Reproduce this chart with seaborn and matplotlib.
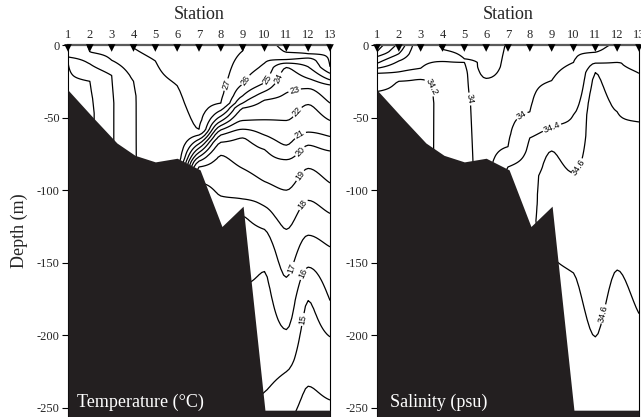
import numpy as np
import matplotlib
matplotlib.use("Agg")
import matplotlib.pyplot as plt
import seaborn as sns
from matplotlib.transforms import ScaledTranslation

# ---------------- data ----------------
stations = [1, 2, 3, 4, 5, 6, 7, 8, 9, 10, 11, 12, 13]
depth_ticks = [0, -50, -100, -150, -200, -250]

# bottom topography (station position, depth m)
bathy_station = [1.0, 2.15, 3.24, 4.07, 5.0, 6.0, 7.05, 8.05, 9.02, 10.02, 13.0]
bathy_depth = [31, 50, 67.5, 76, 80.5, 78, 86, 125, 111, 251.5, 251.5]

temp_levels = list(range(14, 28))
sal_levels = [33.2, 33.4, 33.6, 33.8, 34.0, 34.4, 34.6]
sal_pocket_level = [34.2]

# temperature profiles (depth m, deg C) per station
t_z1 = [0, 8.3, 11.7, 31, 256];        t_v1 = [25.6, 25.0, 24.0, 23.8, 23.7]
t_z2 = [0, 4.8, 13, 25, 47, 256];      t_v2 = [26.06, 26.0, 25.0, 24.0, 23.9, 23.9]
t_z3 = [0, 10.5, 21, 40, 256];         t_v3 = [26.5, 26.0, 25.0, 24.9, 24.9]
t_z4 = [0, 2, 25, 35, 256];            t_v4 = [27.05, 27.0, 26.0, 25.9, 25.9]
t_z5 = [0, 11, 40, 80, 256];           t_v5 = [27.4, 27.0, 26.6, 26.5, 26.45]
t_z6 = [0, 28, 60, 78, 84, 88, 92, 96, 100, 104, 108, 114, 125, 145, 170, 210, 256]
t_v6 = [27.6, 27.0, 26.6, 26.4, 26, 25, 24, 23, 22, 21, 20, 19, 18, 17, 16, 15, 14.5]
t_z7 = [0, 58, 62, 65, 68, 71, 74, 77, 80, 84, 95, 110, 130, 160, 200, 256]
t_v7 = [27.8, 27, 26, 25, 24, 23, 22, 21, 20, 19, 18, 17, 16, 15, 14, 13.5]
t_z8 = [0, 40, 45, 49, 52.5, 55.5, 58.5, 62, 67, 76, 104, 128, 150, 200, 256]
t_v8 = [27.6, 27, 26, 25, 24, 23, 22, 21, 20, 19, 18, 17, 16, 15, 14.1]
t_z9 = [0, 4, 27, 35, 40, 43.5, 52, 58, 64, 85, 106, 118, 165, 245, 256]
t_v9 = [27.05, 27, 26, 25, 24, 23, 22, 21, 20, 19, 18, 17, 16, 15, 14.9]
t_z10 = [0, 12.5, 26, 32, 38, 51.5, 62, 72, 94, 111, 127, 156, 239, 256]
t_v10 = [26.7, 26, 25, 24, 23, 22, 21, 20, 19, 18, 17, 16, 15, 14.85]
t_z11 = [0, 5, 10, 12.5, 15.5, 33, 52, 69, 79, 100, 127, 160, 196, 225, 256]
t_v11 = [27.3, 27, 26, 25, 24, 23, 22, 21, 20, 19, 18, 17, 16, 15, 14.2]
t_z12 = [0, 6, 9, 15, 23, 30, 41, 60, 69, 85, 107, 131, 153, 176, 235, 256]
t_v12 = [27.5, 27, 26, 25, 24, 23, 22, 21, 20, 19, 18, 17, 16, 15, 14, 13.7]
t_z13 = [0, 15, 19.5, 24, 27.5, 40, 52, 63, 73, 95, 116, 139, 176, 201, 244.5, 256]
t_v13 = [27.3, 27, 26, 25, 24, 23, 22, 21, 20, 19, 18, 17, 16, 15, 14, 13.8]

# salinity profiles (depth m, psu) per station
s_z1 = [0, 4.6, 8, 12.6, 16, 19.5, 32, 40, 256]
s_v1 = [33.1, 33.2, 33.4, 33.6, 33.8, 34.0, 34.2, 34.25, 34.25]
s_z2 = [0, 6, 11, 18.5, 25, 35, 256];  s_v2 = [33.45, 33.6, 33.8, 34.0, 34.2, 34.25, 34.25]
s_z3 = [0, 16, 23.6, 30, 256];         s_v3 = [33.9, 34.0, 34.2, 34.25, 34.25]
s_z4 = [0, 3, 11.3, 20, 40, 256];      s_v4 = [33.78, 33.8, 34.0, 34.12, 34.15, 34.15]
s_z5 = [0, 9.5, 12, 20, 80, 256];      s_v5 = [33.7, 33.8, 34.0, 34.03, 34.06, 34.06]
s_z6 = [0, 15, 23, 40, 78, 256];       s_v6 = [33.65, 33.7, 33.8, 33.92, 33.93, 33.95]
s_z7 = [0, 30, 70, 84, 86, 256];       s_v7 = [33.82, 33.9, 34.0, 34.4, 34.42, 34.5]
s_z8 = [0, 46, 64, 90, 121, 256];      s_v8 = [33.9, 34.0, 34.4, 34.54, 34.58, 34.58]
s_z9 = [0, 24.5, 56.5, 73, 90, 111, 145, 200, 256]
s_v9 = [33.92, 34.0, 34.4, 34.6, 34.66, 34.65, 34.6, 34.55, 34.54]
s_z10 = [0, 12, 48, 88, 110, 157, 200, 256]
s_v10 = [33.95, 34.0, 34.4, 34.6, 34.68, 34.6, 34.56, 34.55]
s_z11 = [0, 5, 12.5, 19, 40, 100, 201, 256]
s_v11 = [33.9, 34.0, 34.4, 34.6, 34.68, 34.7, 34.6, 34.55]
s_z12 = [0, 12, 46, 100, 155, 200, 256]; s_v12 = [34.08, 34.4, 34.6, 34.7, 34.6, 34.55, 34.54]
s_z13 = [0, 19.5, 53, 100, 185, 256];  s_v13 = [34.3, 34.4, 34.6, 34.7, 34.6, 34.55]

# contour label anchors: (level, station, approx depth)
temp_label_at = [(27, 8.27, 26), (26, 9.18, 24.5), (25, 10.1, 25), (24, 10.6, 24),
                 (23, 11.4, 31), (22, 11.55, 46), (21, 11.6, 63), (20, 11.65, 72.5),
                 (19, 11.6, 90), (18, 11.7, 112), (17, 11.3, 145), (16, 11.7, 165),
                 (15, 11.8, 186)]
sal_label_at = [(34.0, 5.2, 30), (34.0, 7.6, 55), (34.4, 8.95, 58),
                (34.6, 10.2, 78), (34.6, 11.36, 172)]
sal_pocket_label_at = [(34.2, 3.45, 38)]

# ---------------- build fields ----------------
z_fine = np.arange(0, 256.5, 0.5)
x_fine = np.linspace(stations[0], stations[-1], 12 * 8 + 1)
t_profiles = [(t_z1, t_v1), (t_z2, t_v2), (t_z3, t_v3), (t_z4, t_v4), (t_z5, t_v5),
              (t_z6, t_v6), (t_z7, t_v7), (t_z8, t_v8), (t_z9, t_v9), (t_z10, t_v10),
              (t_z11, t_v11), (t_z12, t_v12), (t_z13, t_v13)]
s_profiles = [(s_z1, s_v1), (s_z2, s_v2), (s_z3, s_v3), (s_z4, s_v4), (s_z5, s_v5),
              (s_z6, s_v6), (s_z7, s_v7), (s_z8, s_v8), (s_z9, s_v9), (s_z10, s_v10),
              (s_z11, s_v11), (s_z12, s_v12), (s_z13, s_v13)]


def pchip_rows(x, Y, xn):
    """Shape-preserving (non-overshooting) cubic along the station axis."""
    x = np.asarray(x, float)
    h = np.diff(x)
    d = np.diff(Y, axis=1) / h
    m = np.zeros_like(Y)
    m[:, 0] = d[:, 0]
    m[:, -1] = d[:, -1]
    d0, d1 = d[:, :-1], d[:, 1:]
    same = (d0 * d1) > 0
    with np.errstate(divide='ignore', invalid='ignore'):
        hm = 2.0 / (1.0 / d0 + 1.0 / d1)
    m[:, 1:-1] = np.where(same, hm, 0.0)
    k = np.clip(np.searchsorted(x, xn, side='right') - 1, 0, len(x) - 2)
    t = (xn - x[k]) / h[k]
    h00 = 2 * t**3 - 3 * t**2 + 1
    h10 = t**3 - 2 * t**2 + t
    h01 = -2 * t**3 + 3 * t**2
    h11 = t**3 - t**2
    return (h00 * Y[:, k] + h10 * h[k] * m[:, k] + h01 * Y[:, k + 1] + h11 * h[k] * m[:, k + 1])


T0 = np.column_stack([np.interp(z_fine, z, v) for z, v in t_profiles])
S0 = np.column_stack([np.interp(z_fine, z, v) for z, v in s_profiles])
T = pchip_rows(stations, T0, x_fine)
S = pchip_rows(stations, S0, x_fine)
S_pocket = S.copy()
S_pocket[:, x_fine > 5] = np.nan


def on_line(field, level, x, z_target):
    """Point of the `level` isoline at station x closest to z_target."""
    j = int(np.argmin(np.abs(x_fine - x)))
    d = field[:, j] - level
    idx = np.where(np.sign(d[:-1]) != np.sign(d[1:]))[0]
    zc = [z_fine[k] + (z_fine[k + 1] - z_fine[k]) * d[k] / (d[k] - d[k + 1]) for k in idx]
    best = min(zc, key=lambda v: abs(v - z_target))
    return (x_fine[j], -best)


# ---------------- style ----------------
sns.set_theme(style="white")
plt.rcParams['font.family'] = ['Liberation Serif', 'DejaVu Serif']
plt.rcParams['axes.unicode_minus'] = False

BLACK = '#231f20'
fig = plt.figure(figsize=(6.41, 4.17), dpi=100)
ax_t = fig.add_axes([68 / 641, 0, 262 / 641, 372 / 417])
ax_s = fig.add_axes([377 / 641, 0, 262 / 641, 372 / 417])


def setup(ax, ylabel):
    ax.set_xlim(1, 13)
    ax.set_ylim(-256.2, 0)
    ax.xaxis.tick_top()
    ax.xaxis.set_label_position('top')
    ax.set_xticks(stations)
    ax.set_xticklabels([str(s) for s in stations])
    ax.tick_params(axis='x', length=0, pad=3, labelsize=9)
    ax.set_yticks(depth_ticks)
    ax.set_yticklabels([str(d) for d in depth_ticks])
    ax.tick_params(axis='y', left=True, direction='out', length=4, width=0.8,
                   pad=2, labelsize=9, color='black')
    ax.set_xlabel('Station', fontsize=13, labelpad=7)
    if ylabel:
        ax.set_ylabel('Depth (m)', fontsize=13, labelpad=6)
    for side in ('left', 'right'):
        ax.spines[side].set_color('black')
        ax.spines[side].set_linewidth(0.8)
    ax.spines['top'].set_color('#5a5a5a')
    ax.spines['top'].set_linewidth(1.6)
    ax.spines['bottom'].set_visible(False)
    ax.grid(False)
    ax.set_facecolor('white')
    # station markers
    sns.scatterplot(x=stations, y=[0] * len(stations), marker='v', s=30, color='black',
                    edgecolor='none', ax=ax, clip_on=False, zorder=6, legend=False)
    coll = ax.collections[-1]
    coll.set_offset_transform(ax.transData + ScaledTranslation(0, -0.03, fig.dpi_scale_trans))
    # bottom
    ax.fill_between(bathy_station, [-d for d in bathy_depth], -300, color=BLACK, lw=0, zorder=4)


def label_contours(ax, cs, field, anchors, fmt):
    pos = [on_line(field, lv, x, z) for lv, x, z in anchors]
    ax.clabel(cs, manual=pos, inline=True, inline_spacing=2, fontsize=6.5, fmt=fmt)
    for t in cs.labelTexts:
        t.set_fontfamily('Liberation Sans')


# temperature
setup(ax_t, True)
cs_t = ax_t.contour(x_fine, -z_fine, T, levels=temp_levels, colors='black',
                    linewidths=0.9, zorder=2)
label_contours(ax_t, cs_t, T, temp_label_at, '%d')
ax_t.text(1.41, -249, 'Temperature (°C)', color='white', fontsize=13, zorder=7,
          ha='left', va='baseline')

# salinity
setup(ax_s, False)
cs_s = ax_s.contour(x_fine, -z_fine, S, levels=sal_levels, colors='black',
                    linewidths=0.9, zorder=2)
label_contours(ax_s, cs_s, S, sal_label_at, '%g')
cs_p = ax_s.contour(x_fine, -z_fine, S_pocket, levels=sal_pocket_level, colors='black',
                    linewidths=0.9, zorder=2)
label_contours(ax_s, cs_p, S_pocket, sal_pocket_label_at, '%g')
ax_s.text(1.6, -249, 'Salinity (psu)', color='white', fontsize=13, zorder=7,
          ha='left', va='baseline')

fig.savefig('out.png', dpi=100)
